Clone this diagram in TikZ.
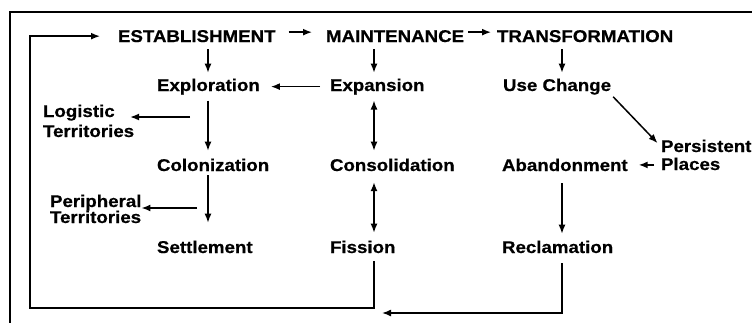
\documentclass[tikz,border=0pt]{standalone}
\usepackage{fontspec}
\setmainfont{Liberation Sans}[FakeStretch=1.1,BoldFeatures={FakeBold=0.6}]
\usetikzlibrary{arrows.meta}
\tikzset{
  lbl/.style={anchor=base west, inner sep=0pt, outer sep=0pt,
    font=\fontsize{17}{18}\selectfont\bfseries, align=left},
  arr/.style={line width=1.5pt, -{Latex[length=9pt,width=7pt]}},
  dbl/.style={line width=1.5pt, {Latex[length=9pt,width=7pt]}-{Latex[length=9pt,width=7pt]}},
}
\begin{document}
\begin{tikzpicture}[x=1pt,y=-1pt]
\useasboundingbox (0,0) rectangle (752,322);
\clip (0,0) rectangle (752,322);
% frame
\draw[line width=2.4pt] (760,12)--(10,12)--(10,330);
% three stages
\node[lbl] (est) at (118,42) {ESTABLISHMENT};
\node[lbl] (mai) at (326,42) {MAINTENANCE};
\node[lbl] (tra) at (497,42) {TRANSFORMATION};
% column entries
\node[lbl] (expl) at (157,91) {Exploration};
\node[lbl] (col) at (157,171) {Colonization};
\node[lbl] (set) at (157,253) {Settlement};
\node[lbl] (exp) at (330,91) {Expansion};
\node[lbl] (cons) at (330,171) {Consolidation};
\node[lbl] (fis) at (330,253) {Fission};
\node[lbl] (use) at (503,91) {Use Change};
\node[lbl] (abd) at (502,171) {Abandonment};
\node[lbl] (recl) at (502,253) {Reclamation};
% two-line labels sit on their last line
\node[lbl] (log) at (43,137) {Logistic\\[2pt]Territories};
\node[lbl] (per) at (50,223) {Peripheral\\[-2pt]Territories};
\node[lbl] (pers) at (661,170) {Persistent\\Places};
% arrow columns and free ends
\coordinate (colA) at (208,0);
\coordinate (colB) at (374,0);
\coordinate (colC) at (562,0);
\coordinate (logt) at (190,117);
\coordinate (pert) at (197,208);
\coordinate (lbl) at (30,308);
\coordinate (rtip) at (382,313);
% top row
\draw[arr,shorten <=13pt,shorten >=14pt] ([yshift=4pt]est.east)--([yshift=4pt]mai.west);
\draw[arr,shorten <=4pt,shorten >=6pt] ([yshift=4pt]mai.east)--([yshift=4pt]tra.west);
\draw[arr,shorten <=7pt,shorten >=6pt] (est.south -| colA)--(expl.north -| colA);
\draw[arr,shorten <=7pt,shorten >=6pt] (mai.south -| colB)--(exp.north -| colB);
\draw[arr,shorten <=7pt,shorten >=6pt] (tra.south -| colC)--(use.north -| colC);
% establishment
\draw[arr,shorten <=10pt,shorten >=11pt] (exp.west)--(expl.east);
\draw[arr,shorten <=6pt,shorten >=8pt] (expl.south -| colA)--(col.north -| colA);
\draw[arr,shorten <=4pt,shorten >=18pt] (col.south -| colA)--(set.north -| colA);
\draw[arr,shorten >=-4pt] (logt)--(logt -| log.east);
\draw[arr] (pert)--(pert -| per.east);
% maintenance
\draw[dbl,shorten <=6pt,shorten >=8pt] (exp.south -| colB)--(cons.north -| colB);
\draw[dbl,shorten <=11pt,shorten >=8pt] (cons.south -| colB)--(fis.north -| colB);
% transformation
\draw[arr,shorten <=3pt,shorten >=5pt] (use.south east)--([yshift=-7pt]pers.north west);
\draw[arr,shorten <=7pt,shorten >=11pt] (abd.east -| pers.west)--(abd.east);
\draw[arr,shorten <=12pt,shorten >=7pt] (abd.south -| colC)--(recl.north -| colC);
\draw[arr,shorten <=10pt] (recl.south -| colC) |- (rtip);
% back to the start
\draw[arr,shorten <=8pt,shorten >=18pt] (fis.south -| colB) |- (lbl) |- (est.west);
\end{tikzpicture}
\end{document}
